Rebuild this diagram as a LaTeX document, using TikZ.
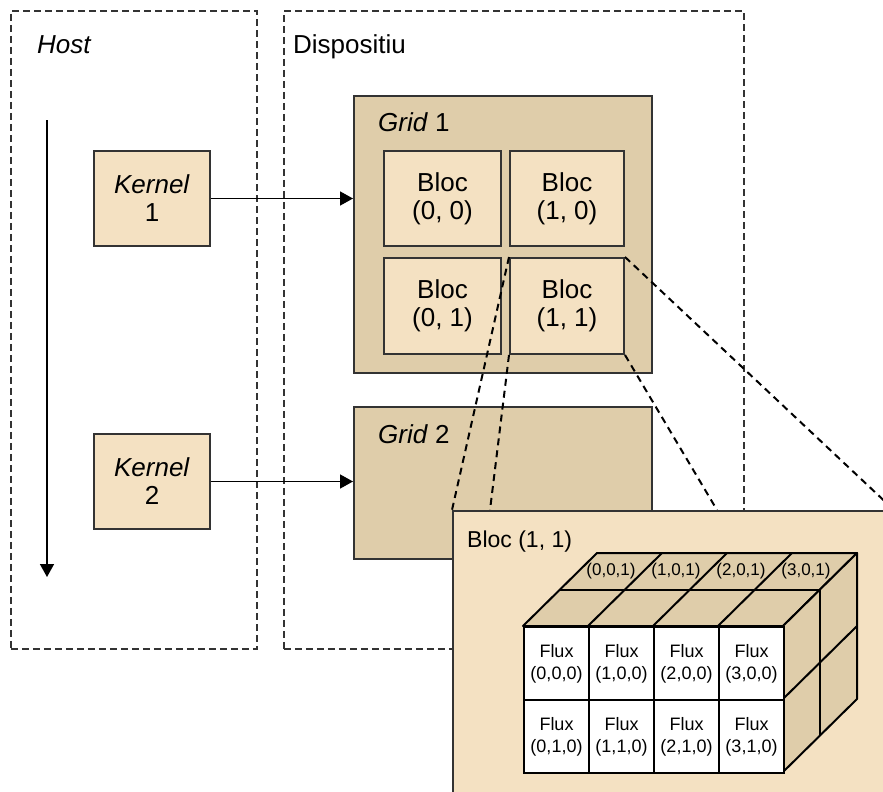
\documentclass[tikz,border=0pt]{standalone}
\usepackage{fontspec}
\setmainfont{Liberation Sans}
\usetikzlibrary{arrows.meta}
\definecolor{lbeige}{RGB}{244,225,194}
\definecolor{dbeige}{RGB}{223,205,170}
\definecolor{edgegray}{RGB}{51,51,51}
\newcommand\bigfnt{\fontsize{26}{28}\selectfont}
\newcommand\midfnt{\fontsize{23}{26}\selectfont}
\newcommand\fluxfnt{\fontsize{18}{22}\selectfont}
\newcommand\smfnt{\fontsize{17}{20}\selectfont}
\tikzset{
  container/.style={draw=edgegray, line width=1.8pt, dash pattern=on 7pt off 4pt, anchor=north west, inner sep=0pt},
  kbox/.style={draw=edgegray, fill=lbeige, line width=2pt, anchor=north west, align=center, font=\bigfnt, inner sep=0pt},
  gridbox/.style={draw=edgegray, fill=dbeige, line width=2pt, anchor=north west, inner sep=0pt},
  lbl/.style={anchor=base west, inner sep=0pt, font=\bigfnt},
  arr/.style={line width=1.5pt, -{Triangle[length=13pt,width=14pt]}},
  zoomline/.style={line width=2pt, dash pattern=on 7pt off 5pt},
  cubeface/.style={fill=dbeige, draw=black, line width=2pt, line join=round},
  cubeline/.style={draw=black, line width=2pt},
  fluxcell/.style={draw=black, fill=white, line width=2pt, anchor=north west, minimum width=65pt, minimum height=73pt, inner sep=0pt, align=center, font=\fluxfnt},
  backlbl/.style={inner sep=0pt, font=\smfnt}
}
\begin{document}
\begin{tikzpicture}[x=1pt,y=-1pt]
\useasboundingbox (0,0) rectangle (883,792);
\clip (0,0) rectangle (883,792);
% containers
\node[container, minimum width=246pt, minimum height=638pt] (host) at (10,10) {};
\node[container, minimum width=460pt, minimum height=638pt] (disp) at (283,10) {};
\node[lbl, font=\bigfnt\itshape] (hostlbl) at (37,53) {Host};
\node[lbl] (displbl) at (293,53) {Dispositiu};
% host timeline
\coordinate (ha) at (47,120);
\coordinate (hb) at (47,577);
\draw[arr] (ha) -- (hb);
% kernels
\node[kbox, minimum width=116pt, minimum height=95pt] (k1) at (93,150) {\textit{Kernel}\\1};
\node[kbox, minimum width=116pt, minimum height=95pt] (k2) at (93,433) {\textit{Kernel}\\2};
% grids
\node[gridbox, minimum width=298pt, minimum height=277pt] (g1) at (353,95) {};
\node[gridbox, minimum width=298pt, minimum height=152pt] (g2) at (353,406) {};
\node[lbl] (g1lbl) at (378,131) {\textit{Grid} 1};
\node[lbl] (g2lbl) at (378,443) {\textit{Grid} 2};
\draw[arr] (k1.east) -- (k1.east -| g1.west);
\draw[arr] (k2.east) -- (k2.east -| g2.west);
% blocks
\node[kbox, minimum width=117pt, minimum height=95pt] (b00) at (383,150) {Bloc\\(0, 0)};
\node[kbox, minimum width=114pt, minimum height=95pt] (b10) at (509,150) {Bloc\\(1, 0)};
\node[kbox, minimum width=117pt, minimum height=96pt] (b01) at (383,257) {Bloc\\(0, 1)};
\node[kbox, minimum width=114pt, minimum height=96pt] (b11) at (509,257) {Bloc\\(1, 1)};
% zoom lines
\coordinate (za) at (452,510);
\coordinate (zb) at (490,510);
\coordinate (zd) at (717,510);
\coordinate (zc) at (894,510);
\draw[zoomline] (b11.north west) -- (za);
\draw[zoomline] (b11.south west) -- (zb);
\draw[zoomline] (b11.north east) -- (zc);
\draw[zoomline] (b11.south east) -- (zd);
% big block
\node[kbox, minimum width=442pt, minimum height=300pt] (big) at (za) {};
\node[lbl, font=\midfnt] (biglbl) at (467,547) {Bloc (1, 1)};
% cube top face and right face
\filldraw[cubeface] (523,626) -- (783,626) -- (857,553) -- (597,553) -- cycle;
\filldraw[cubeface] (783,626) -- (857,553) -- (857,699) -- (783,772) -- cycle;
\foreach \i in {1,2,3} {
  \draw[cubeline] (523+65*\i,626) -- (597+65*\i,553);
}
\draw[cubeline] (560,589.5) -- (820,589.5);
\draw[cubeline] (820,589.5) -- (820,735.5);
\draw[cubeline] (783,699) -- (857,626);
% back labels
\node[backlbl] (l0) at (611,571) {(0,0,1)};
\node[backlbl] (l1) at (676,571) {(1,0,1)};
\node[backlbl] (l2) at (741,571) {(2,0,1)};
\node[backlbl] (l3) at (806,571) {(3,0,1)};
% front cells
\node[fluxcell] (f00) at (523,626) {Flux\\(0,0,0)};
\node[fluxcell] (f10) at (588,626) {Flux\\(1,0,0)};
\node[fluxcell] (f20) at (653,626) {Flux\\(2,0,0)};
\node[fluxcell] (f30) at (718,626) {Flux\\(3,0,0)};
\node[fluxcell] (f01) at (523,699) {Flux\\(0,1,0)};
\node[fluxcell] (f11) at (588,699) {Flux\\(1,1,0)};
\node[fluxcell] (f21) at (653,699) {Flux\\(2,1,0)};
\node[fluxcell] (f31) at (718,699) {Flux\\(3,1,0)};
\end{tikzpicture}
\end{document}
